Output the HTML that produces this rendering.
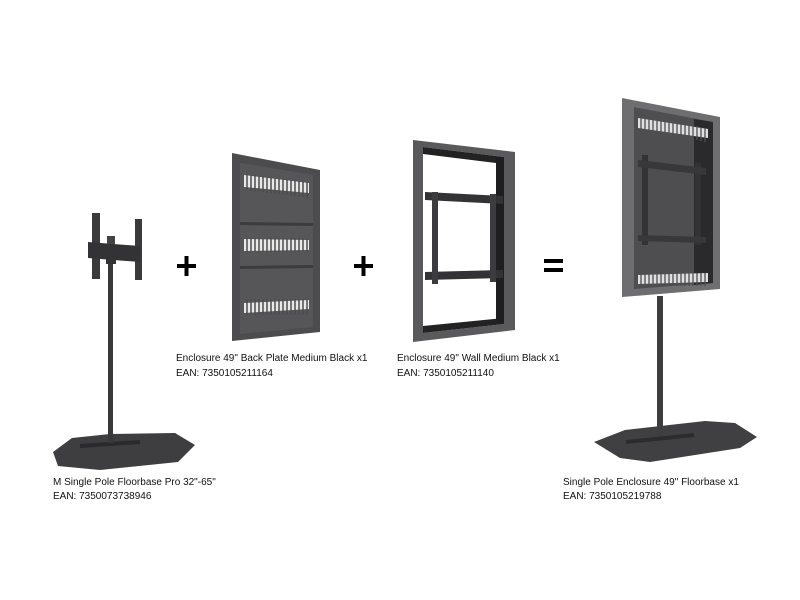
<!DOCTYPE html>
<html><head><meta charset="utf-8"><style>
html,body{margin:0;padding:0;background:#fff;}
svg{display:block}
text{font-family:"Liberation Sans",Arial,sans-serif;font-size:10px;fill:#111}
</style></head><body>
<svg width="800" height="600" viewBox="0 0 800 600">
<!-- Stand 1 -->
<polygon points="53,452 72,438 110,434 175,433 195,445 178,462 100,470 58,466" fill="#3e3e40"/>
<polygon points="80,444 140,440 140,444 80,448" fill="#2a2a2c"/>
<rect x="108" y="260" width="5" height="183" fill="#38383a"/>
<rect x="92" y="213" width="8" height="66" fill="#3a3a3c"/>
<rect x="135" y="219" width="7" height="61" fill="#3a3a3c"/>
<polygon points="88,242 140,246 140,262 88,258" fill="#333335"/>
<rect x="107" y="236" width="8" height="8" fill="#444"/>
<rect x="106" y="258" width="10" height="6" fill="#333"/>
<!-- Plus 1 -->
<rect x="177" y="264" width="19" height="4" fill="#000"/><rect x="184.5" y="256" width="4" height="20" fill="#000"/>
<!-- Back plate -->
<polygon points="232,153 320,170 320,332 232,341" fill="#4c4c4e"/>
<polygon points="240,163 313,175 313,327 240,334" fill="#565658"/>
<polygon points="240,222 313,223 313,226 240,225" fill="#3c3c3e"/>
<polygon points="240,266 313,265 313,268 240,269" fill="#3c3c3e"/>
<g fill="#e8e8e8">
<polygon points="244,175 309,183 309,193 244,187"/>
<polygon points="244,239 309,240 309,250 244,251"/>
<polygon points="244,303 309,300 309,309 244,313"/>
</g>
<g stroke="#4c4c4e" stroke-width="1.5">
<path d="M247,174v16M251,175v16M255,175v16M259,176v16M263,176v16M267,177v16M271,177v16M275,178v16M279,178v16M283,179v16M287,179v16M291,180v16M295,180v16M299,181v16M303,181v16M307,182v16"/>
<path d="M247,238v14M251,238v14M255,238v14M259,238v14M263,238v14M267,238v14M271,238v14M275,238v14M279,238v14M283,238v14M287,238v14M291,238v14M295,238v14M299,238v14M303,238v14M307,238v14"/>
<path d="M247,299v16M251,299v16M255,299v16M259,299v16M263,299v16M267,299v16M271,299v16M275,299v16M279,299v16M283,299v16M287,299v16M291,299v16M295,299v16M299,299v16M303,299v16M307,299v16"/>
</g>
<!-- Plus 2 -->
<rect x="354" y="264" width="19" height="4" fill="#000"/><rect x="361.5" y="256" width="4" height="20" fill="#000"/>
<!-- Wall frame -->
<polygon points="413,140 515,152 515,330 413,342" fill="#5a5a5c"/>
<polygon points="423,147 504,157 504,324 423,333" fill="#fff"/>
<polygon points="423,147 504,157 504,164 423,154" fill="#222"/>
<polygon points="423,326 504,318 504,324 423,333" fill="#222"/>
<polygon points="496,158 504,157 504,324 496,322" fill="#1e1e20"/>
<polygon points="425,192 503,196 503,204 425,200" fill="#333335"/>
<polygon points="425,272 503,270 503,278 425,280" fill="#333335"/>
<rect x="432" y="192" width="6" height="92" fill="#3c3c3e"/>
<rect x="490" y="194" width="6" height="88" fill="#3c3c3e"/>
<!-- Equals -->
<rect x="544" y="259" width="19" height="4" fill="#000"/><rect x="544" y="268" width="19" height="4" fill="#000"/>
<!-- Final -->
<polygon points="594,442 625,430 705,421 735,423 757,437 740,448 650,462 620,458" fill="#404042"/>
<polygon points="626,440 694,433 694,437 626,444" fill="#2c2c2e"/>
<rect x="657" y="296" width="6" height="140" fill="#3e3e40"/>
<polygon points="622,98 720,117 720,289 622,297" fill="#6e6e70"/>
<polygon points="634,107 713,122 713,283 634,289" fill="#4e4e50"/>
<polygon points="694,119 713,122 713,283 694,285" fill="#2a2a2c"/>
<polygon points="638,118 708,129 708,138 638,128" fill="#e0e0e0"/>
<polygon points="638,275 708,273 708,282 638,284" fill="#e0e0e0"/>
<g stroke="#4e4e50" stroke-width="1.3">
<path d="M641,117v14M645,118v14M649,118v14M653,119v14M657,120v14M661,120v14M665,121v14M669,122v14M673,122v14M677,123v14M681,124v14M685,124v14M689,125v14M693,126v14M697,126v14M701,127v14M705,128v14"/>
<path d="M641,273v13M645,273v13M649,273v13M653,273v13M657,273v13M661,273v13M665,273v13M669,273v13M673,273v13M677,273v13M681,273v13M685,273v13M689,273v13M693,273v13M697,273v13M701,273v13M705,273v13"/>
</g>
<rect x="642" y="155" width="6" height="90" fill="#333"/>
<rect x="695" y="163" width="6" height="82" fill="#333"/>
<polygon points="638,160 706,168 706,175 638,167" fill="#38383a"/>
<polygon points="638,235 706,237 706,243 638,241" fill="#38383a"/>
<!-- Labels -->
<text x="53" y="485">M Single Pole Floorbase Pro 32"-65"</text>
<text x="53" y="499">EAN: 7350073738946</text>
<text x="176" y="361">Enclosure 49" Back Plate Medium Black x1</text>
<text x="176" y="376">EAN: 7350105211164</text>
<text x="397" y="361">Enclosure 49" Wall Medium Black x1</text>
<text x="397" y="376">EAN: 7350105211140</text>
<text x="563" y="485">Single Pole Enclosure 49" Floorbase x1</text>
<text x="563" y="499">EAN: 7350105219788</text>
</svg>
</body></html>
